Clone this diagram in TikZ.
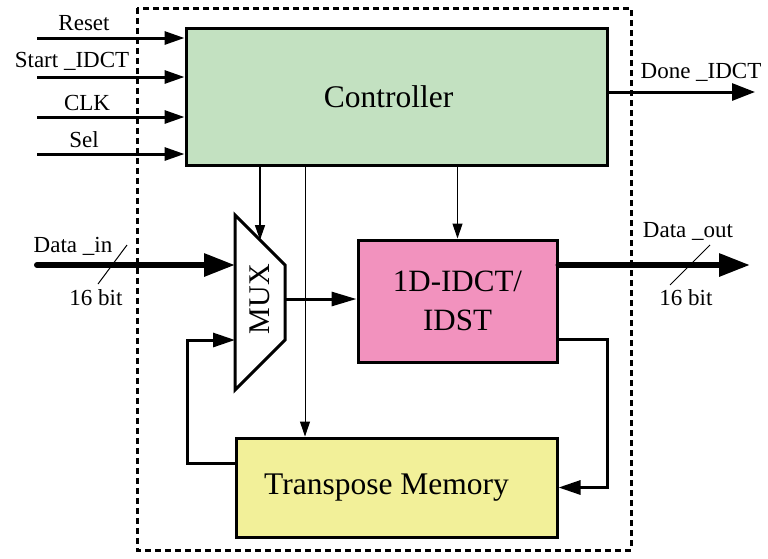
\documentclass[tikz,border=0pt]{standalone}
\usepackage{fontspec}
\setmainfont{Liberation Serif}
\usetikzlibrary{arrows.meta}
\definecolor{ctrlgreen}{RGB}{195,225,193}
\definecolor{idctpink}{RGB}{242,146,190}
\definecolor{memyellow}{RGB}{242,240,153}

\begin{document}
\begin{tikzpicture}[x=1pt,y=-1pt,
  blk/.style={draw, line width=3pt, inner sep=0pt},
  lbl/.style={font=\fontsize{23}{25}\selectfont, inner sep=0pt, anchor=base},
  sig/.style={line width=3pt, -{Triangle[length=20pt,width=13pt]}},
  bus/.style={line width=6pt, line cap=round, -{Triangle[length=31pt,width=22pt]}},
  ctl/.style={line width=1.2pt, -{Triangle[length=15pt,width=10pt]}}]
\useasboundingbox (0,0) rectangle (768,558);

% chip boundary
\draw[line width=3pt, dash pattern=on 6pt off 4pt] (137,8) rectangle (631,550);

% blocks
\node[blk, fill=ctrlgreen, minimum width=421pt, minimum height=137pt,
  font=\fontsize{31.5}{33}\selectfont] (ctrl) at (396.5,96.5) {\hspace*{-16pt}Controller};
\node[blk, fill=idctpink, minimum width=199pt, minimum height=122pt, align=center,
  font=\fontsize{31}{39}\selectfont] (idct) at (457.5,301) {1D-IDCT/\\IDST};
\node[blk, fill=memyellow, minimum width=321pt, minimum height=99pt,
  font=\fontsize{31.5}{33}\selectfont] (mem) at (396.5,487.5) {\hspace*{-20pt}Transpose Memory};

% mux
\draw[line width=3pt, line join=miter] (235,215) -- (285,265) -- (285,340) -- (235,390) -- cycle;
\node[rotate=90, inner sep=0pt, font=\fontsize{30}{32}\selectfont] (mux) at (260,299) {MUX};
\coordinate (mux-sel) at (260,240);
\coordinate (mux-in1) at (235,265);
\coordinate (mux-in2) at (235,340);
\coordinate (mux-out) at (285,299);

% control inputs
\foreach \n/\y/\lx/\ly/\txt in {reset/38/84/30/Reset, start/77/72/67/Start \_IDCT,
    clk/117/87/110/CLK, sel/154/84/147/Sel}{
  \coordinate (in-\n) at (37,\y);
  \node[lbl] (lab-\n) at (\lx,\ly) {\txt};
  \draw[sig] (in-\n) -- (in-\n -| ctrl.west);
}

% done output
\coordinate (done) at (755,92);
\node[lbl] (lab-done) at (701,78) {Done \_IDCT};
\draw[line width=3pt, -{Triangle[length=23pt,width=17pt]}] (done -| ctrl.east) -- (done);

% data path
\coordinate (din) at (37,265);
\coordinate (dout) at (750,265);
\node[lbl] (lab-din) at (73,252) {Data \_in};
\node[lbl] (bits-din) at (96,305) {16 bit};
\node[lbl] (lab-dout) at (688,237) {Data \_out};
\node[lbl] (bits-dout) at (686,305) {16 bit};
\draw[bus] (din) -- (mux-in1);
\draw[bus] (dout -| idct.east) -- (dout);
\draw[line width=1pt] (127,245) -- (98,284);
\draw[line width=1pt] (710,245) -- (670,285);
\draw[line width=3pt, -{Triangle[length=25pt,width=14pt]}] (mux-out) -- (mux-out -| idct.west);

% controller to blocks
\coordinate (mem-ctl) at (305,0);
\draw[ctl, line width=1.6pt] (mux-sel |- ctrl.south) -- (mux-sel);
\draw[ctl] (idct.north |- ctrl.south) -- (idct.north);
\draw[ctl, line width=1pt] (mem-ctl |- ctrl.south) -- (mem-ctl |- mem.north);

% feedback loops
\coordinate (fb-l) at (187,463);
\coordinate (fb-r) at (607,339);
\draw[sig, -{Triangle[length=22pt,width=14pt]}] (fb-l -| mem.west) -- (fb-l) |- (mux-in2);
\draw[sig, -{Triangle[length=22pt,width=14pt]}] (fb-r -| idct.east) -- (fb-r) |- (mem.east);

\end{tikzpicture}
\end{document}
